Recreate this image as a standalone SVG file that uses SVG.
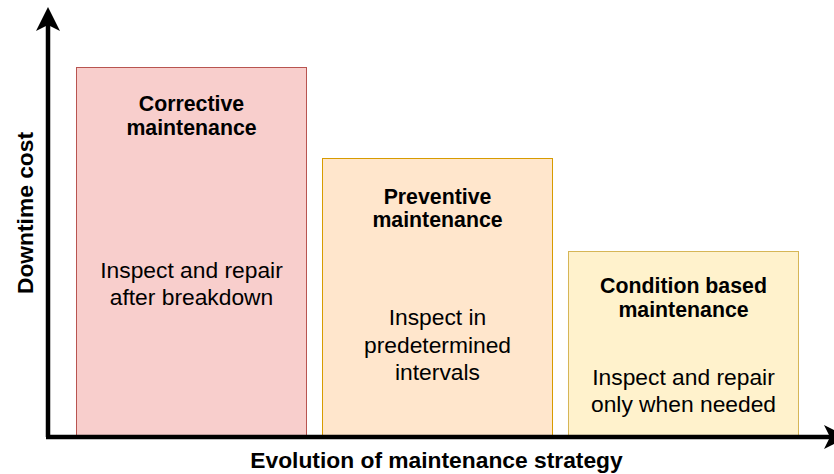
<svg xmlns="http://www.w3.org/2000/svg" width="834" height="474" viewBox="0 0 834 474">
  <style>
    .title { font-family: "Liberation Sans", Arial, Helvetica, sans-serif; font-weight: bold; font-size: 21.3px; fill: #000; text-anchor: middle; }
    .body { font-family: "Liberation Sans", Arial, Helvetica, sans-serif; font-size: 22.8px; fill: #000; text-anchor: middle; }
    .axislabel { font-family: "Liberation Sans", Arial, Helvetica, sans-serif; font-weight: bold; font-size: 22.8px; fill: #000; text-anchor: middle; }
    .axis { stroke: #000; stroke-width: 4.5; fill: none; }
  </style>
  <defs>
    <marker id="arrow" markerUnits="userSpaceOnUse" markerWidth="24" markerHeight="24" viewBox="0 0 24 24" refX="18" refY="12" orient="auto">
      <path d="M0,0 L24,12 L0,24 L6,12 Z" fill="#000"/>
    </marker>
  </defs>
  <rect width="834" height="474" fill="#ffffff"/>

  <g id="corrective">
    <rect x="76.5" y="67.5" width="230" height="369" fill="#f8cecc" stroke="#b85450" stroke-width="1"/>
    <text class="title" x="191.5" y="111">Corrective</text>
    <text class="title" x="191.5" y="135">maintenance</text>
    <text class="body" x="191.5" y="277.5">Inspect and repair</text>
    <text class="body" x="191.5" y="305">after breakdown</text>
  </g>

  <g id="preventive">
    <rect x="322.5" y="158.5" width="230" height="278" fill="#ffe6cc" stroke="#d79b00" stroke-width="1"/>
    <text class="title" x="437.5" y="203.5">Preventive</text>
    <text class="title" x="437.5" y="227">maintenance</text>
    <text class="body" x="437.5" y="325">Inspect in</text>
    <text class="body" x="437.5" y="352.5">predetermined</text>
    <text class="body" x="437.5" y="380">intervals</text>
  </g>

  <g id="condition">
    <rect x="568.5" y="251.5" width="230" height="185" fill="#fff2cc" stroke="#d6b656" stroke-width="1"/>
    <text class="title" x="683.5" y="292.5">Condition based</text>
    <text class="title" x="683.5" y="316.5">maintenance</text>
    <text class="body" x="683.5" y="384.5">Inspect and repair</text>
    <text class="body" x="683.5" y="412">only when needed</text>
  </g>

  <g id="connectors">
    <line class="axis" x1="48" y1="437" x2="48" y2="13" marker-end="url(#arrow)"/>
    <line class="axis" x1="46" y1="437" x2="842" y2="437" marker-end="url(#arrow)"/>
  </g>

  <g id="axis-labels">
    <text class="axislabel" x="436.5" y="467.5">Evolution of maintenance strategy</text>
    <text class="axislabel" transform="translate(33,213) rotate(-90)" x="0" y="0">Downtime cost</text>
  </g>
</svg>
